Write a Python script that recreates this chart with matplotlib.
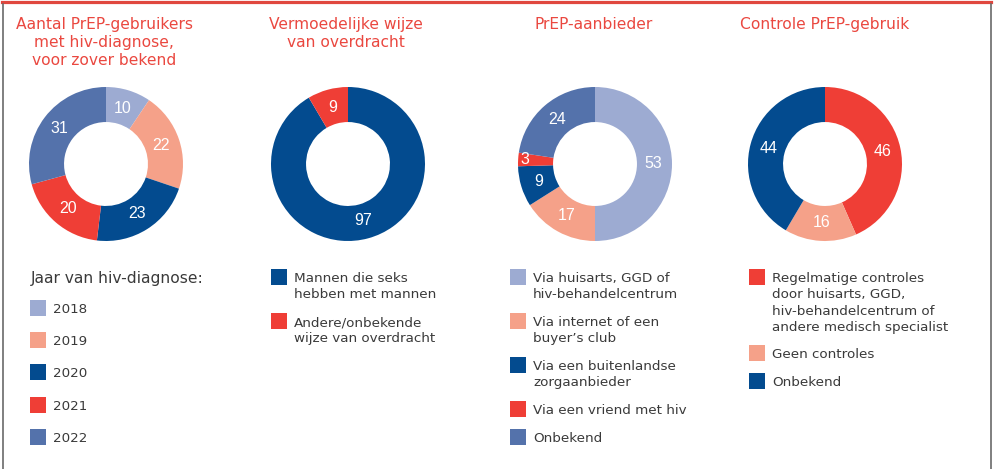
import matplotlib
matplotlib.use("Agg")
import matplotlib.pyplot as plt
from matplotlib.patches import Rectangle
from matplotlib.lines import Line2D
import numpy as np

# ---------------- data ----------------
titles = [
    "Aantal PrEP-gebruikers\nmet hiv-diagnose,\nvoor zover bekend",
    "Vermoedelijke wijze\nvan overdracht",
    "PrEP-aanbieder",
    "Controle PrEP-gebruik",
]

diag_years = ["2018", "2019", "2020", "2021", "2022"]
diag_values = [10, 22, 23, 20, 31]

transm_labels = ["Mannen die seks\nhebben met mannen", "Andere/onbekende\nwijze van overdracht"]
transm_values = [97, 9]

provider_labels = ["Via huisarts, GGD of\nhiv-behandelcentrum", "Via internet of een\nbuyer\u2019s club",
                   "Via een buitenlandse\nzorgaanbieder", "Via een vriend met hiv", "Onbekend"]
provider_values = [53, 17, 9, 3, 24]

control_labels = ["Regelmatige controles\ndoor huisarts, GGD,\nhiv-behandelcentrum of\nandere medisch specialist",
                  "Geen controles", "Onbekend"]
control_values = [46, 16, 44]

legend_title_1 = "Jaar van hiv-diagnose:"

# ---------------- style ----------------
LAV = "#9DABD2"
SAL = "#F5A189"
DBL = "#034B8F"
RED = "#EF3E36"
MBL = "#5472AB"
TITLE_RED = "#EA4840"
TXT = "#3A3A3A"

diag_colors = [LAV, SAL, DBL, RED, MBL]
transm_colors = [DBL, RED]
provider_colors = [LAV, SAL, DBL, RED, MBL]
control_colors = [RED, SAL, DBL]

W, H = 994, 469
fig = plt.figure(figsize=(W / 100, H / 100), dpi=100)


def fx(x):
    return x / W


def fy(y):
    return 1 - y / H


NUM_FONT = ["Liberation Sans", "DejaVu Sans"]
LEG_FONT = ["DejaVu Sans"]

# frame
fig.add_artist(Line2D([fx(2), fx(991)], [fy(2.5), fy(2.5)], color="#E0473E", lw=2.3))
fig.add_artist(Line2D([fx(3), fx(3)], [fy(4), fy(469)], color="#6A6A6A", lw=1.2))
fig.add_artist(Line2D([fx(990.5), fx(990.5)], [fy(4), fy(469)], color="#6A6A6A", lw=1.2))

centers_x = [106, 348, 595, 825]
cy = 164
R = 77
title_x = [104, 346, 594, 825]

datasets = [(diag_values, diag_colors), (transm_values, transm_colors),
            (provider_values, provider_colors), (control_values, control_colors)]

for i, ((vals, cols), cx) in enumerate(zip(datasets, centers_x)):
    ax = fig.add_axes([fx(cx - R), fy(cy + R), 2 * R / W, 2 * R / H])
    wedges, _ = ax.pie(vals, colors=cols, startangle=90, counterclock=False,
                       radius=1, wedgeprops=dict(width=0.455, linewidth=0))
    ax.set_xlim(-1, 1)
    ax.set_ylim(-1, 1)
    ax.set_aspect("equal")
    ax.axis("off")
    total = sum(vals)
    for w, v in zip(wedges, vals):
        ang = np.deg2rad((w.theta1 + w.theta2) / 2)
        r = 0.91 if v / total < 0.04 else 0.76
        ax.text(r * np.cos(ang), r * np.sin(ang), str(v), color="white",
                ha="center", va="center", fontsize=11.5, family=NUM_FONT)
    for k, line in enumerate(titles[i].split("\n")):
        fig.text(fx(title_x[i]), fy(29 + 18 * k), line, color=TITLE_RED, ha="center",
                 va="baseline", fontsize=11.2, family=LEG_FONT)

# ---------------- legends ----------------
SQ = 16
LS = 16.3  # line spacing px
FS = 9.7


def legend_item(x_sq, y_top, label, color):
    fig.add_artist(Rectangle((fx(x_sq), fy(y_top + SQ)), SQ / W, SQ / H, color=color, lw=0))
    lines = label.split("\n")
    for k, line in enumerate(lines):
        fig.text(fx(x_sq + 23), fy(y_top + 8 + k * LS), line, color=TXT, ha="left",
                 va="center_baseline", fontsize=FS, family=LEG_FONT)


# legend 1
fig.text(fx(31), fy(277), legend_title_1, color=TXT, ha="left", va="center_baseline",
         fontsize=11.2, family=LEG_FONT)
y1 = [300, 332, 364, 397, 429]
for lab, col, yy in zip(diag_years, diag_colors, y1):
    legend_item(30, yy, lab, col)

# legend 2
for lab, col, yy in zip(transm_labels, transm_colors, [269, 313]):
    legend_item(271, yy, lab, col)

# legend 3
for lab, col, yy in zip(provider_labels, provider_colors, [269, 313, 357, 401, 429]):
    legend_item(510, yy, lab, col)

# legend 4
for lab, col, yy in zip(control_labels, control_colors, [269, 345, 373]):
    legend_item(749, yy, lab, col)

fig.savefig("out.png", dpi=100, facecolor="white")
